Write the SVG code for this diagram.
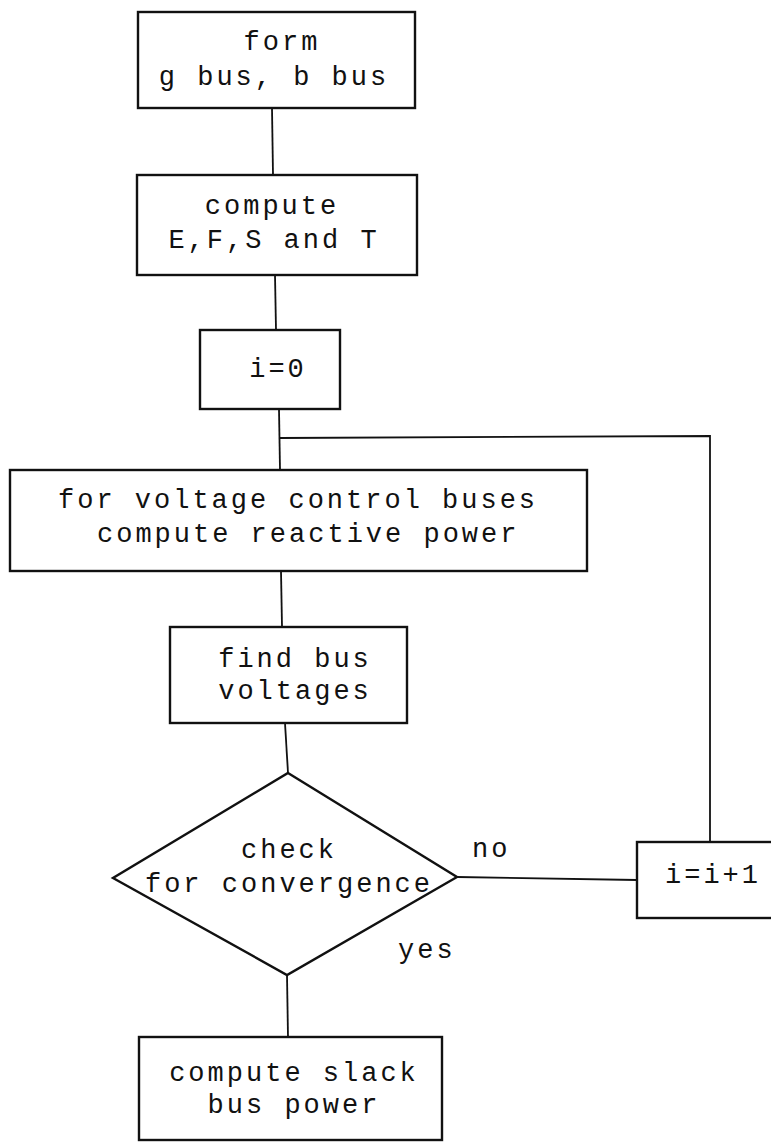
<svg xmlns="http://www.w3.org/2000/svg" width="771" height="1142" viewBox="0 0 771 1142">
  <style>
    .box { fill: #fff; stroke: #111; stroke-width: 2.4; }
    .wire { fill: none; stroke: #111; stroke-width: 1.8; }
    .txt { font-family: "Liberation Mono", "DejaVu Sans Mono", monospace; font-size: 27px; letter-spacing: 3px; fill: #111; }
    .mid { text-anchor: middle; }
  </style>
  <rect width="771" height="1142" fill="#fff"/>

  <!-- connectors -->
  <g id="connectors">
    <line class="wire" x1="272" y1="108" x2="273" y2="175"/>
    <line class="wire" x1="275" y1="275" x2="276" y2="330"/>
    <line class="wire" x1="279" y1="409" x2="280" y2="470"/>
    <line class="wire" x1="281" y1="571" x2="282" y2="627"/>
    <line class="wire" x1="285" y1="723" x2="288" y2="773"/>
    <line class="wire" x1="287" y1="975" x2="288" y2="1037"/>
    <!-- "no" branch to increment -->
    <line class="wire" x1="457" y1="877" x2="637" y2="880" stroke-width="2.4"/>
    <!-- loop back to the reactive power step -->
    <polyline class="wire" points="710,842 710,436 280,438" stroke-width="2.2"/>
    <text class="txt" x="472" y="857">no</text>
    <text class="txt" x="398" y="958">yes</text>
  </g>

  <g id="form-bus">
    <rect class="box" x="138" y="12" width="277" height="96"/>
    <text class="txt mid" x="282" y="50">form</text>
    <text class="txt mid" x="274" y="85">g bus, b bus</text>
  </g>

  <g id="compute-efst">
    <rect class="box" x="137" y="175" width="280" height="100"/>
    <text class="txt mid" x="272" y="214">compute</text>
    <text class="txt mid" x="274" y="248">E,F,S and T</text>
  </g>

  <g id="init-i">
    <rect class="box" x="200" y="330" width="140" height="79"/>
    <text class="txt mid" x="278" y="377">i=0</text>
  </g>

  <g id="reactive-power">
    <rect class="box" x="10" y="470" width="577" height="101"/>
    <text class="txt" x="58" y="508">for voltage control buses</text>
    <text class="txt" x="97" y="542">compute reactive power</text>
  </g>

  <g id="bus-voltages">
    <rect class="box" x="170" y="627" width="237" height="96"/>
    <text class="txt mid" x="295" y="667">find bus</text>
    <text class="txt mid" x="295" y="699">voltages</text>
  </g>

  <g id="convergence">
    <polygon class="box" points="288,773 457,877 287,975 113,878"/>
    <text class="txt mid" x="289" y="858">check</text>
    <text class="txt mid" x="289" y="892">for convergence</text>
  </g>

  <g id="increment-i">
    <rect class="box" x="637" y="842" width="200" height="76"/>
    <text class="txt" x="665" y="883">i=i+1</text>
  </g>

  <g id="slack-power">
    <rect class="box" x="139" y="1037" width="303" height="103"/>
    <text class="txt mid" x="294" y="1081">compute slack</text>
    <text class="txt mid" x="294" y="1113">bus power</text>
  </g>
</svg>
